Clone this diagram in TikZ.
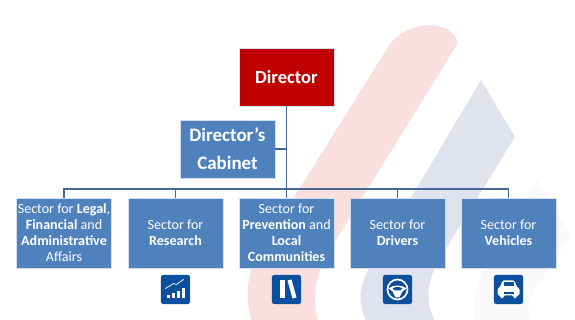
\documentclass[tikz,border=0pt]{standalone}
\usepackage{fontspec}
\setmainfont{Carlito}
\usepackage{xcolor}
\usetikzlibrary{positioning, calc}
\definecolor{boxblue}{HTML}{4F81BD}
\definecolor{bossred}{HTML}{C00000}
\definecolor{linkblue}{HTML}{44689A}
\definecolor{iconblue}{HTML}{0B4F9E}
\definecolor{bandred}{HTML}{FADFDF}
\definecolor{bandblue}{HTML}{E0E2EE}
\definecolor{bandpale}{HTML}{F9F9FA}

\begin{document}
\begin{tikzpicture}[
    x=0.025cm, y=-0.025cm,
    sector/.style={rectangle, draw=white!75!boxblue, line width=0.3pt, fill=boxblue, text=white, minimum width=2.37cm, minimum height=1.75cm, align=center, inner sep=0pt, font=\fontsize{10}{11.4}\selectfont},
    boss/.style={sector, fill=bossred, minimum height=1.45cm, font=\fontsize{13.2}{15}\selectfont\bfseries},
    cabinetbox/.style={sector, minimum height=1.45cm, font=\fontsize{13.5}{20}\selectfont\bfseries},
    link/.style={draw=linkblue, line width=0.8pt},
    trunk/.style={draw=linkblue, line width=1.3pt},
    icon/.style={rectangle, rounded corners=1.5pt, fill=iconblue, minimum size=0.725cm, inner sep=0pt},
    glyph/.style={draw=white, line width=0.8pt, line cap=round, line join=round}
]
\useasboundingbox (0,0) rectangle (575,320);

% Faded bands behind the chart
\begin{scope}
\clip (0,0) rectangle (575,320);
\fill[bandred] (388,47) .. controls (398,30) and (425,20) .. (445,28) .. controls (452,31) and (456,37) .. (458,43) -- (330,250) .. controls (315,275) and (310,300) .. (320,325) -- (253,325) .. controls (245,300) and (245,280) .. (258,255) -- cycle;
\fill[bandblue] (481,80) -- (515,137) -- (445,250) .. controls (428,275) and (422,300) .. (437,325) -- (368,325) .. controls (358,305) and (358,290) .. (368,270) -- cycle;
\fill[bandpale] (537,180) -- (571,235) -- (545,275) .. controls (528,295) and (525,310) .. (532,325) -- (478,325) .. controls (470,310) and (472,295) .. (482,275) -- cycle;
\end{scope}

% Top of the chart
\node[boss] (director) at (286.5,77) {Director};
\node[cabinetbox] (cabinet) at (227.5,149) {Director’s\\Cabinet};

% Sectors
\node[sector] (legal) at (64,233) {Sector for \textbf{Legal},\\\textbf{Financial} and\\\textbf{Administrative}\\Affairs};
\node[sector] (research) at (175.5,233) {Sector for\\\textbf{Research}};
\node[sector] (prevention) at (286.5,233) {Sector for\\\textbf{Prevention} and\\\textbf{Local}\\\textbf{Communities}};
\node[sector] (drivers) at (397.5,233) {Sector for\\\textbf{Drivers}};
\node[sector] (vehicles) at (508.5,233) {Sector for\\\textbf{Vehicles}};

% Connectors
\coordinate (bus) at (286.5,189);
\draw[trunk] (director.south) -- (prevention.north);
\draw[link] (cabinet.east) -- (cabinet.east -| director.south);
\draw[link] (legal.north) |- (bus) -| (vehicles.north);
\draw[link] (research.north) -- (research.north |- bus);
\draw[link] (drivers.north) -- (drivers.north |- bus);

% Icons under the sectors
\node[icon] (iconresearch) at (175.5,289.5) {};
\node[icon] (iconprevention) at (286.5,289.5) {};
\node[icon] (icondrivers) at (397.5,289.5) {};
\node[icon] (iconvehicles) at (508.5,289.5) {};

% Rising bars
\foreach \i/\h in {0/3,1/5,2/7,3/10}
    \fill[white] ($(iconresearch)+(-9+5*\i,9)$) rectangle ++(3.6,-\h);
\draw[glyph, line width=0.5pt] ($(iconresearch)+(-10,-1)$) -- ++(8,-5) -- ++(3,1) -- ++(7,-5);

% Books
\fill[white] ($(iconprevention)+(-7,-9)$) rectangle ++(5,18);
\fill[white] ($(iconprevention)+(1,-9)$) -- ++(4,-1) -- ++(5,18) -- ++(-4,1) -- cycle;

% Steering wheel
\draw[glyph, line width=1.2pt] (icondrivers) circle (10);
\fill[white] ($(icondrivers)+(-9,-1)$) .. controls ($(icondrivers)+(-4,-5)$) and ($(icondrivers)+(4,-5)$) .. ($(icondrivers)+(9,-1)$) -- ($(icondrivers)+(5,2)$) -- ($(icondrivers)+(2,8)$) -- ($(icondrivers)+(-2,8)$) -- ($(icondrivers)+(-5,2)$) -- cycle;
\fill[iconblue] ($(icondrivers)+(-5,-1)$) .. controls ($(icondrivers)+(-2,-3)$) and ($(icondrivers)+(2,-3)$) .. ($(icondrivers)+(5,-1)$) -- ($(icondrivers)+(3,1)$) -- ($(icondrivers)+(-3,1)$) -- cycle;

% Car
\fill[white, rounded corners=1pt] ($(iconvehicles)+(-11,-1)$) -- ++(3,-2) -- ++(2,-6) -- ++(12,0) -- ++(2,6) -- ++(3,2) -- ++(0,7) -- ++(-3,0) -- ++(0,3) -- ++(-3,0) -- ++(0,-3) -- ++(-10,0) -- ++(0,3) -- ++(-3,0) -- ++(0,-3) -- ++(-3,0) -- cycle;
\fill[iconblue] ($(iconvehicles)+(-5,-7)$) rectangle ++(10,4);
\fill[iconblue] ($(iconvehicles)+(-5,3)$) rectangle ++(10,1.5);

\end{tikzpicture}
\end{document}
